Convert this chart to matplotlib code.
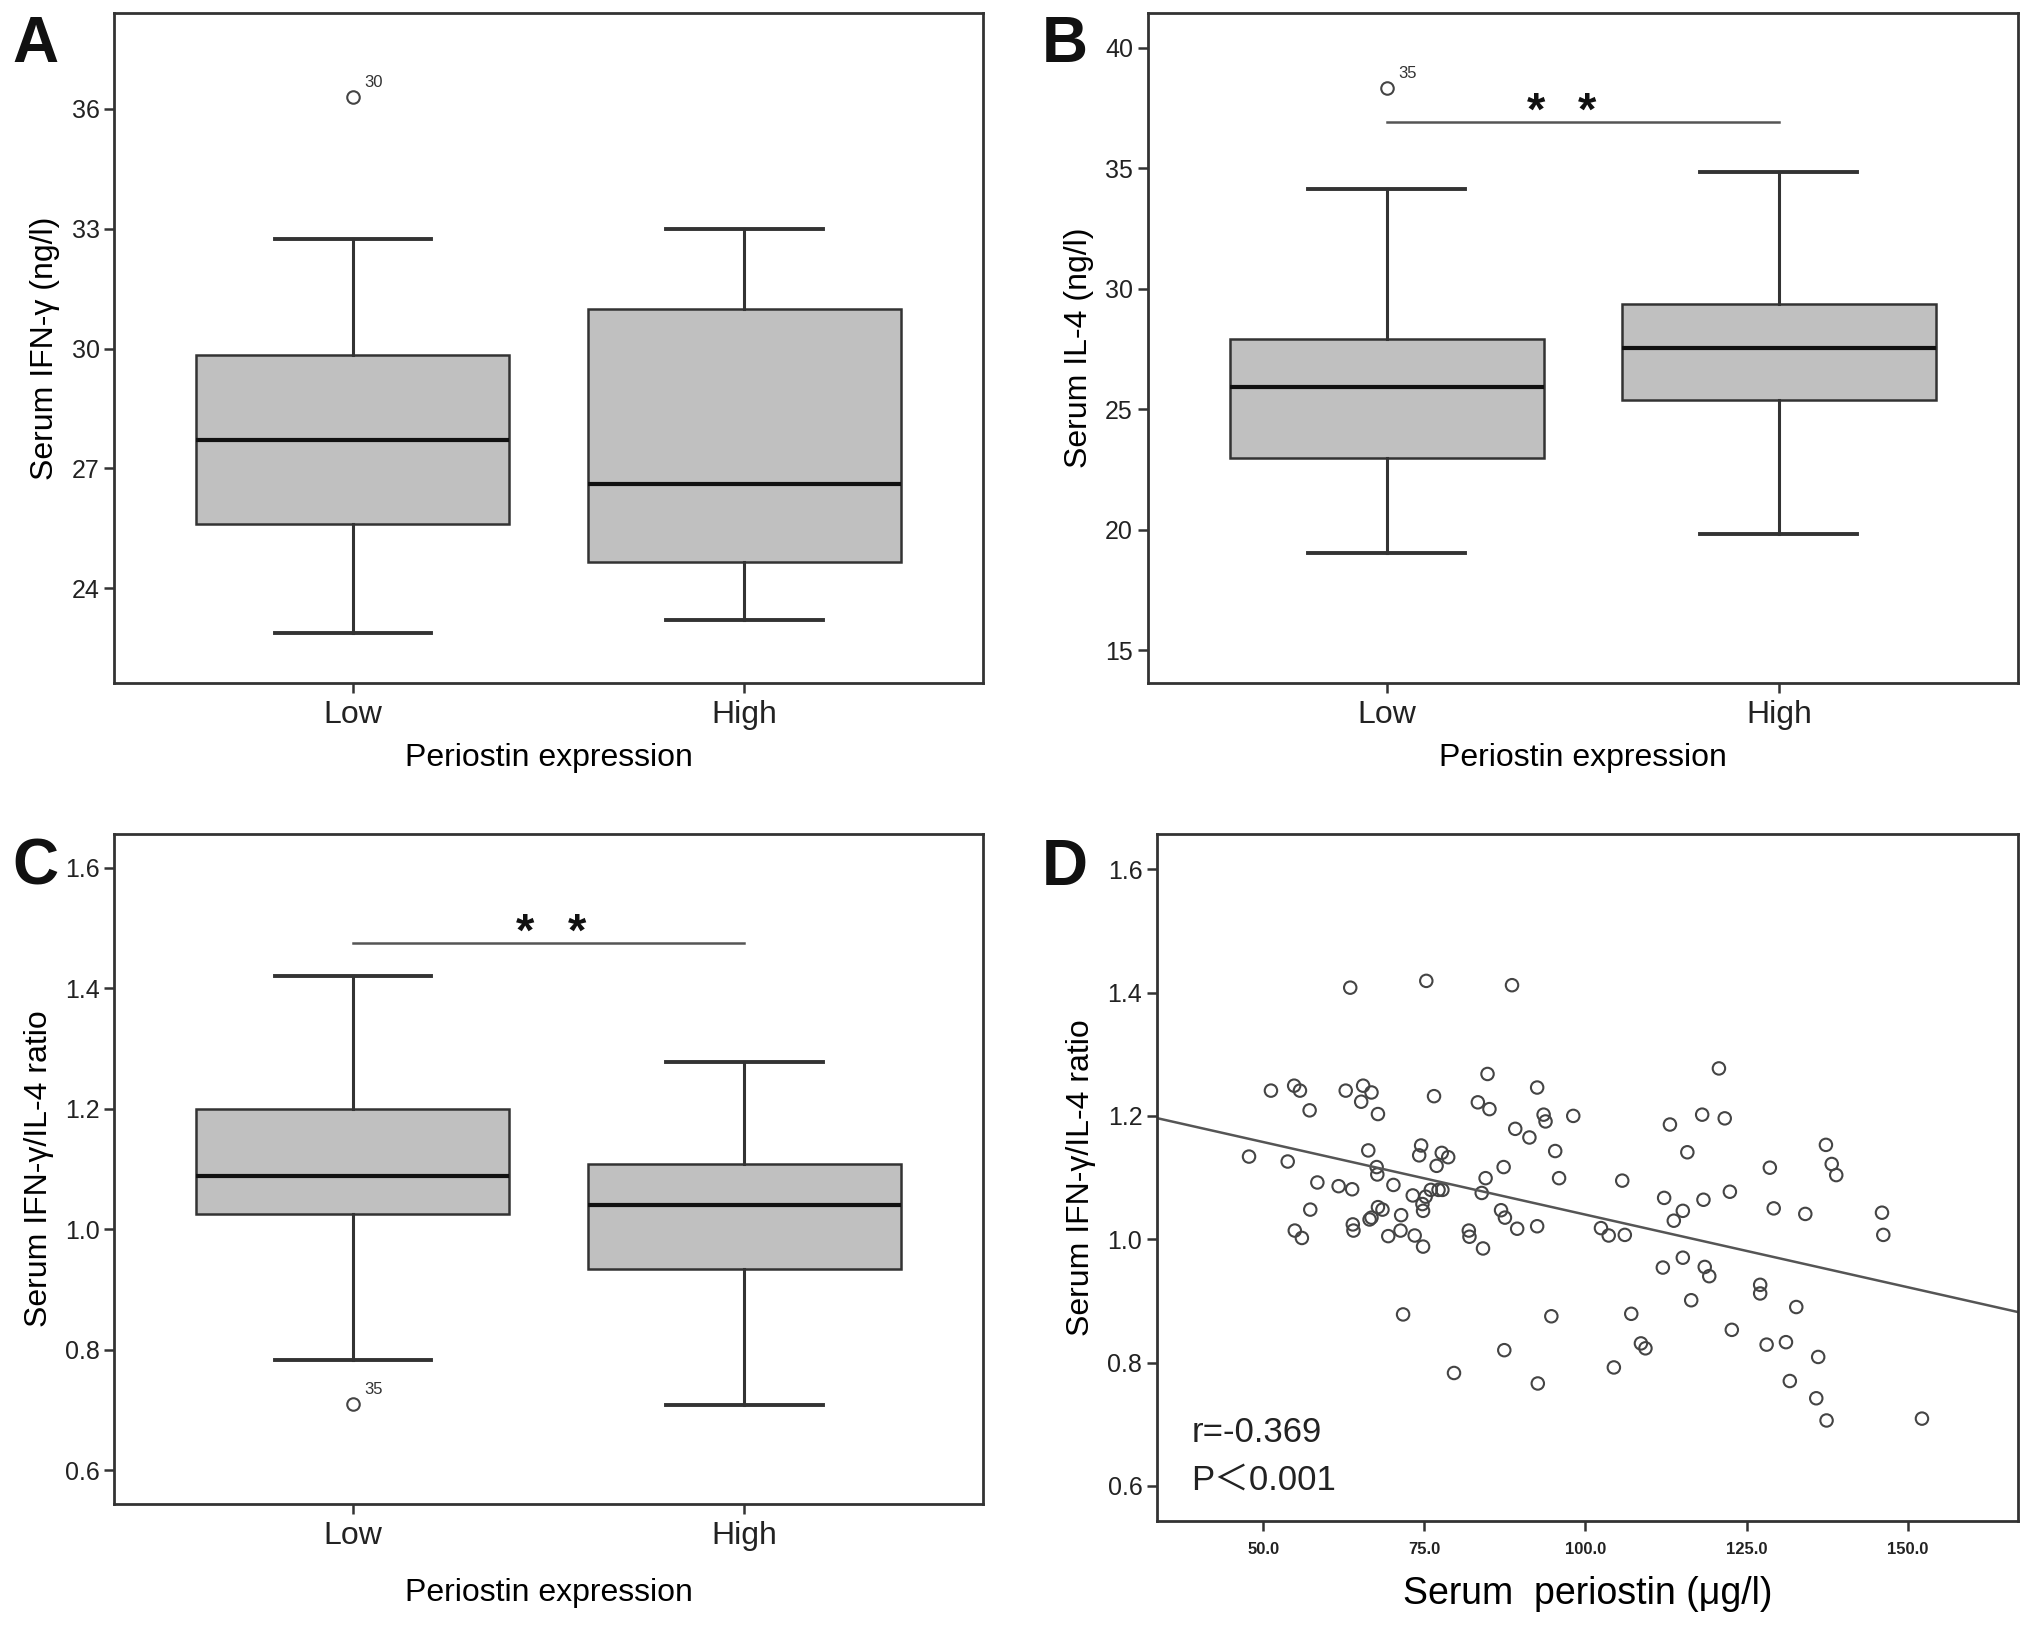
import numpy as np
import matplotlib
matplotlib.use("Agg")
import matplotlib.pyplot as plt

plt.rcParams['font.family'] = ['Liberation Sans', 'DejaVu Sans']

# ---- data ----
groups = ['Low', 'High']

# panel A: serum IFN-gamma (ng/l)
ifn_low = dict(whislo=22.87, q1=25.6, med=27.7, q3=29.83, whishi=32.75)
ifn_high = dict(whislo=23.2, q1=24.66, med=26.6, q3=31.0, whishi=33.0)
ifn_outlier = (1, 36.3, '30')

# panel B: serum IL-4 (ng/l)
il4_low = dict(whislo=19.04, q1=22.97, med=25.94, q3=27.93, whishi=34.13)
il4_high = dict(whislo=19.85, q1=25.4, med=27.55, q3=29.39, whishi=34.85)
il4_outlier = (1, 38.33, '35')

# panel C: IFN-gamma / IL-4 ratio
ratio_low = dict(whislo=0.783, q1=1.025, med=1.089, q3=1.2, whishi=1.421)
ratio_high = dict(whislo=0.708, q1=0.934, med=1.04, q3=1.109, whishi=1.277)
ratio_outlier = (1, 0.71, '35')

# panel D: serum periostin vs ratio
periostin = [47.8, 51.2, 53.8, 54.8, 55.7, 54.9, 56.0, 57.2, 57.3, 58.4,
             61.7, 62.8, 63.5, 63.8, 63.9, 64.0, 65.5, 65.2, 66.8, 66.3,
             66.5, 66.8, 67.6, 67.7, 67.8, 67.8, 68.5, 69.4, 70.2, 71.4,
             71.3, 71.7, 73.2, 73.5, 74.2, 74.5, 74.7, 74.8, 74.8, 75.2,
             75.3, 76.0, 76.5, 76.9, 77.2, 77.7, 77.8, 78.7, 79.6, 81.9,
             82.0, 83.3, 83.9, 84.1, 84.5, 84.8, 85.1, 86.9, 87.3, 87.5,
             87.4, 88.6, 89.1, 89.4, 91.3, 92.5, 92.5, 92.6, 93.5, 93.8,
             94.7, 95.3, 95.9, 98.1, 102.4, 103.6, 104.4, 105.7, 106.1, 107.1,
             108.6, 109.3, 112.0, 112.2, 113.1, 113.7, 115.1, 115.1, 115.8, 116.4,
             118.1, 118.3, 118.5, 119.2, 120.7, 121.6, 122.4, 122.7, 127.1, 127.1,
             128.1, 128.6, 129.2, 131.1, 131.7, 132.7, 134.1, 135.8, 136.1, 137.3,
             137.4, 138.2, 138.9, 146.0, 146.2, 152.2]
ratio = [1.134, 1.241, 1.126, 1.249, 1.241, 1.014, 1.002, 1.209, 1.048, 1.092,
         1.086, 1.241, 1.408, 1.081, 1.024, 1.014, 1.249, 1.223, 1.238, 1.144,
         1.032, 1.035, 1.117, 1.105, 1.203, 1.052, 1.048, 1.005, 1.088, 1.039,
         1.014, 0.878, 1.071, 1.006, 1.136, 1.152, 1.057, 1.046, 0.988, 1.069,
         1.419, 1.080, 1.232, 1.119, 1.080, 1.140, 1.080, 1.133, 0.783, 1.014,
         1.004, 1.222, 1.075, 0.985, 1.099, 1.268, 1.211, 1.047, 1.117, 1.035,
         0.820, 1.412, 1.179, 1.017, 1.165, 1.246, 1.021, 0.766, 1.202, 1.191,
         0.875, 1.143, 1.099, 1.200, 1.018, 1.006, 0.792, 1.095, 1.007, 0.879,
         0.831, 0.823, 0.954, 1.067, 1.186, 1.030, 1.046, 0.970, 1.141, 0.901,
         1.202, 1.064, 0.955, 0.940, 1.277, 1.196, 1.077, 0.853, 0.926, 0.912,
         0.829, 1.116, 1.050, 0.833, 0.770, 0.890, 1.041, 0.742, 0.809, 1.153,
         0.706, 1.122, 1.104, 1.043, 1.007, 0.709]
r_text = 'r=-0.369'
p_text = 'P\uff1c0.001'

EDGE = '#333333'
FILL = '#c0c0c0'

fig = plt.figure(figsize=(20.31, 16.26), dpi=100)


def style_axes(ax):
    for s in ax.spines.values():
        s.set_color(EDGE)
        s.set_linewidth(2.0)
    ax.tick_params(axis='both', direction='out', length=7, width=1.8,
                   color=EDGE, labelcolor='#222222', top=False, right=False)


def box_panel(ax, stats_pair, outlier, ylim, yticks, ylabel, sig_y=None, star_y=None,
              star_x=None, xpad=10):
    stats = []
    for lab, st in zip(groups, stats_pair):
        d = dict(st)
        d['label'] = lab
        d['fliers'] = []
        stats.append(d)
    ax.bxp(stats, positions=[1, 2], widths=0.8, patch_artist=True,
           showfliers=False,
           boxprops=dict(facecolor=FILL, edgecolor=EDGE, linewidth=1.8),
           medianprops=dict(color='#111111', linewidth=3.0),
           whiskerprops=dict(color=EDGE, linewidth=2.2),
           capprops=dict(color=EDGE, linewidth=2.8),
           capwidths=0.4)
    pos, val, lab = outlier
    ax.plot([pos], [val], 'o', mfc='white', mec='#444444', mew=1.5, ms=9)
    ax.annotate(lab, (pos, val), xytext=(8, 7), textcoords='offset points',
                fontsize=12, color='#333333')
    if sig_y is not None:
        ax.plot([1, 2], [sig_y, sig_y], color='#555555', lw=1.8)
        for xs in star_x:
            ax.text(xs, star_y, '*', ha='center', va='center', fontsize=34,
                    fontweight='bold', color='#111111')
    ax.set_xlim(0.39, 2.61)
    ax.set_ylim(*ylim)
    ax.set_yticks(yticks)
    ax.set_xticks([1, 2])
    ax.set_xticklabels(groups, fontsize=23)
    ax.tick_params(axis='y', labelsize=18)
    ax.tick_params(axis='x', pad=5)
    ax.set_xlabel('Periostin expression', fontsize=23, labelpad=xpad)
    ax.set_ylabel(ylabel, fontsize=23, labelpad=8)
    style_axes(ax)


axA = fig.add_axes([0.0562, 0.580, 0.4278, 0.412])
box_panel(axA, (ifn_low, ifn_high), ifn_outlier, (21.63, 38.4), [24, 27, 30, 33, 36],
          'Serum IFN-\u03b3 (ng/l)')

axB = fig.add_axes([0.565, 0.580, 0.4286, 0.412])
box_panel(axB, (il4_low, il4_high), il4_outlier, (13.65, 41.45), [15, 20, 25, 30, 35, 40],
          'Serum IL-4 (ng/l)', sig_y=36.93, star_y=37.3, star_x=(1.38, 1.51))

axC = fig.add_axes([0.0562, 0.075, 0.4278, 0.412])
box_panel(axC, (ratio_low, ratio_high), ratio_outlier, (0.544, 1.656),
          [0.6, 0.8, 1.0, 1.2, 1.4, 1.6], 'Serum IFN-\u03b3/IL-4 ratio',
          sig_y=1.475, star_y=1.49, star_x=(1.44, 1.573), xpad=20)
axC.yaxis.set_major_formatter(matplotlib.ticker.FormatStrFormatter('%.1f'))

# panel D scatter with linear fit
axD = fig.add_axes([0.5696, 0.0646, 0.424, 0.4224])
x = np.array(periostin)
y = np.array(ratio)
axD.scatter(x, y, s=80, facecolors='none', edgecolors='#444444', linewidths=1.5)
slope, intercept = np.polyfit(x, y, 1)
xl = np.array([33.5, 167.1])
axD.plot(xl, intercept + slope * xl, color='#555555', lw=1.8)
axD.set_xlim(33.5, 167.1)
axD.set_ylim(0.543, 1.657)
axD.set_xticks([50, 75, 100, 125, 150])
axD.set_xticklabels(['50.0', '75.0', '100.0', '125.0', '150.0'],
                    fontsize=12, fontweight='bold')
axD.set_yticks([0.6, 0.8, 1.0, 1.2, 1.4, 1.6])
axD.yaxis.set_major_formatter(matplotlib.ticker.FormatStrFormatter('%.1f'))
axD.tick_params(axis='y', labelsize=18)
axD.tick_params(axis='x', pad=8)
axD.set_xlabel('Serum  periostin (\u03bcg/l)', fontsize=27, labelpad=14)
axD.set_ylabel('Serum IFN-\u03b3/IL-4 ratio', fontsize=23, labelpad=8)
axD.text(0.04, 0.115, r_text, transform=axD.transAxes, fontsize=25, color='#222222')
axD.text(0.04, 0.045, p_text, transform=axD.transAxes, fontsize=25, color='#222222',
         family=['Liberation Sans', 'Noto Sans CJK SC', 'DejaVu Sans'])
style_axes(axD)

# panel letters
for lab, (fx, fy) in zip('ABCD', [(0.006, 0.962), (0.513, 0.962), (0.006, 0.456), (0.513, 0.456)]):
    fig.text(fx, fy, lab, fontsize=46, fontweight='bold', color='#111111')

fig.savefig('out.png', dpi=100)
